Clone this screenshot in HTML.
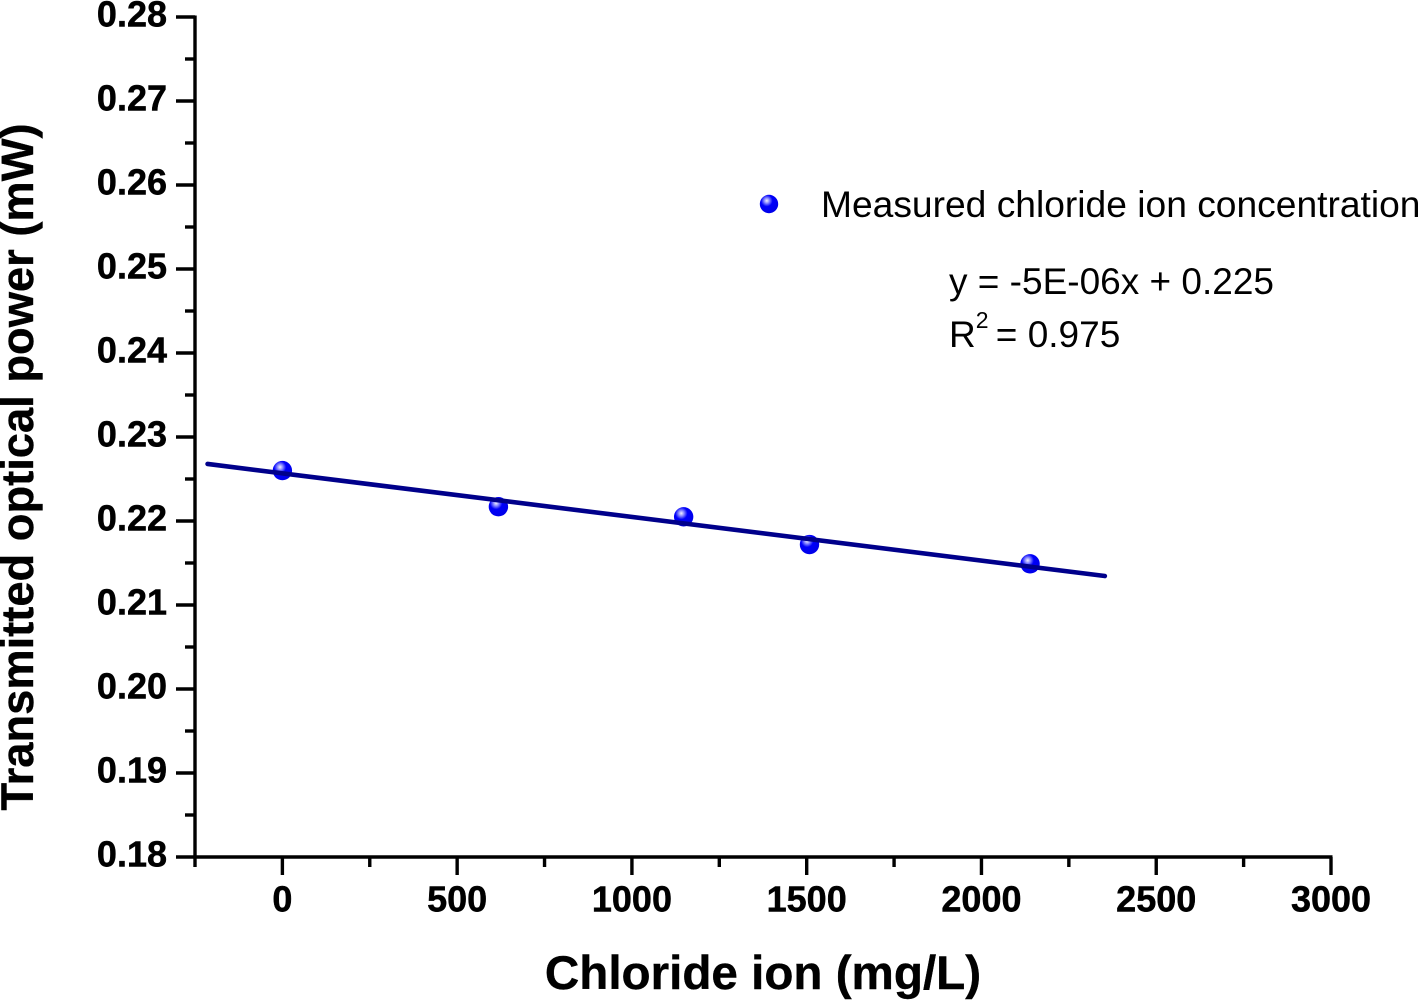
<!DOCTYPE html>
<html lang="en">
<head>
<meta charset="utf-8">
<title>Transmitted optical power vs chloride ion</title>
<style>
html,body{margin:0;padding:0;background:#fff;width:1418px;height:1000px;overflow:hidden}
svg{display:block;font-family:"Liberation Sans",Arial,sans-serif}
</style>
</head>
<body>
<svg id="chart" xmlns="http://www.w3.org/2000/svg" width="1418" height="1000" viewBox="0 0 1418 1000">
<defs>
<radialGradient id="ball" cx="0.38" cy="0.32" r="0.7">
<stop offset="0" stop-color="#f0f0ff"/>
<stop offset="0.2" stop-color="#8a8aff"/>
<stop offset="0.45" stop-color="#0000fa"/>
<stop offset="1" stop-color="#0000e8"/>
</radialGradient>
</defs>
<rect width="1418" height="1000" fill="#fff"/>
<g id="axes"></g>
<g id="marks"></g>
<text x="763" y="989" text-anchor="middle" font-size="47.6" font-weight="bold" fill="#000" stroke="#000" stroke-width="0.4">Chloride ion (mg/L)</text>
<text transform="translate(33,467) rotate(-90)" text-anchor="middle" font-size="45.3" font-weight="bold" fill="#000" stroke="#000" stroke-width="0.4">Transmitted optical power (mW)</text>
<circle cx="769" cy="204" r="9.2" fill="url(#ball)"/>
<text x="821" y="217" font-size="37.2" fill="#000">Measured chloride ion concentration</text>
<text x="949" y="294" font-size="37" fill="#000">y = -5E-06x + 0.225</text>
<text x="949" y="347" font-size="37" fill="#000">R<tspan font-size="23" dy="-19">2</tspan><tspan dy="19" dx="-3"> = 0.975</tspan></text>
</svg>
<script>
const xTickLabels = ["0", "500", "1000", "1500", "2000", "2500", "3000"];
const yTickLabels = ["0.18", "0.19", "0.20", "0.21", "0.22", "0.23", "0.24", "0.25", "0.26", "0.27", "0.28"];
const xMinorTicks = [-250, 250, 750, 1250, 1750, 2250, 2750];
const yMinorTicks = [0.185, 0.195, 0.205, 0.215, 0.225, 0.235, 0.245, 0.255, 0.265, 0.275];
const chlorideValues = [0, 618, 1148, 1508, 2139];
const powerValues = [0.2260, 0.2217, 0.2205, 0.2172, 0.2149];
const fitX = [-214, 2353];
const fitY = [0.22679, 0.21345];

const xDomainMin = -250, xDomainMax = 3000, yDomainMin = 0.18, yDomainMax = 0.28;
const plotLeft = 195, plotRight = 1331, plotTop = 17, plotBottom = 857;
function xScale(v) { return plotLeft + (v - xDomainMin) / (xDomainMax - xDomainMin) * (plotRight - plotLeft); }
function yScale(v) { return plotBottom - (v - yDomainMin) / (yDomainMax - yDomainMin) * (plotBottom - plotTop); }

const NS = "http://www.w3.org/2000/svg";
const axesGroup = document.getElementById("axes");
const marksGroup = document.getElementById("marks");
function make(tag, parent, props) {
  const el = document.createElementNS(NS, tag);
  for (const k in props) el.setAttribute(k, props[k]);
  parent.appendChild(el);
  return el;
}
const axisStroke = { stroke: "#000", "stroke-width": 3.4, "stroke-linecap": "butt" };
const tickLabelStyle = { "font-size": 36, "font-weight": "bold", fill: "#000", stroke: "#000", "stroke-width": 0.5 };

const xAxisLine = make("line", axesGroup, Object.assign({ x1: plotLeft - 1.5, x2: plotRight + 1.5, y1: plotBottom, y2: plotBottom }, axisStroke));


const yAxisLine = make("line", axesGroup, Object.assign({ x1: plotLeft, x2: plotLeft, y1: plotTop - 1.5, y2: plotBottom + 1.5 }, axisStroke));



xTickLabels.forEach(function (label) {
  const px = xScale(Number(label));
  const tick = make("line", axesGroup, Object.assign({ x1: px, x2: px, y1: plotBottom, y2: plotBottom + 18 }, axisStroke));
  
  
  const text = make("text", axesGroup, Object.assign({ x: px, y: 911.5, "text-anchor": "middle" }, tickLabelStyle));
  text.textContent = label;
  
  
});
xMinorTicks.forEach(function (v) {
  const px = xScale(v);
  const tick = make("line", axesGroup, Object.assign({ x1: px, x2: px, y1: plotBottom, y2: plotBottom + 10 }, axisStroke));
  
  
});
yTickLabels.forEach(function (label) {
  const py = yScale(Number(label));
  const tick = make("line", axesGroup, Object.assign({ x1: plotLeft - 19, x2: plotLeft, y1: py, y2: py }, axisStroke));
  
  
  const text = make("text", axesGroup, Object.assign({ x: 167, y: py + 9.5, "text-anchor": "end" }, tickLabelStyle));
  text.textContent = label;
  
  
});
yMinorTicks.forEach(function (v) {
  const py = yScale(v);
  const tick = make("line", axesGroup, Object.assign({ x1: plotLeft - 10, x2: plotLeft, y1: py, y2: py }, axisStroke));
  
  
});

chlorideValues.forEach(function (v, i) {
  const pt = make("circle", marksGroup, { cx: xScale(v), cy: yScale(powerValues[i]), r: 9.7, fill: "url(#ball)" });
  
  
});
const fitLine = make("line", marksGroup, { x1: xScale(fitX[0]), y1: yScale(fitY[0]), x2: xScale(fitX[1]), y2: yScale(fitY[1]), stroke: "#00008b", "stroke-width": 4.6, "stroke-linecap": "round" });


</script>
</body>
</html>
